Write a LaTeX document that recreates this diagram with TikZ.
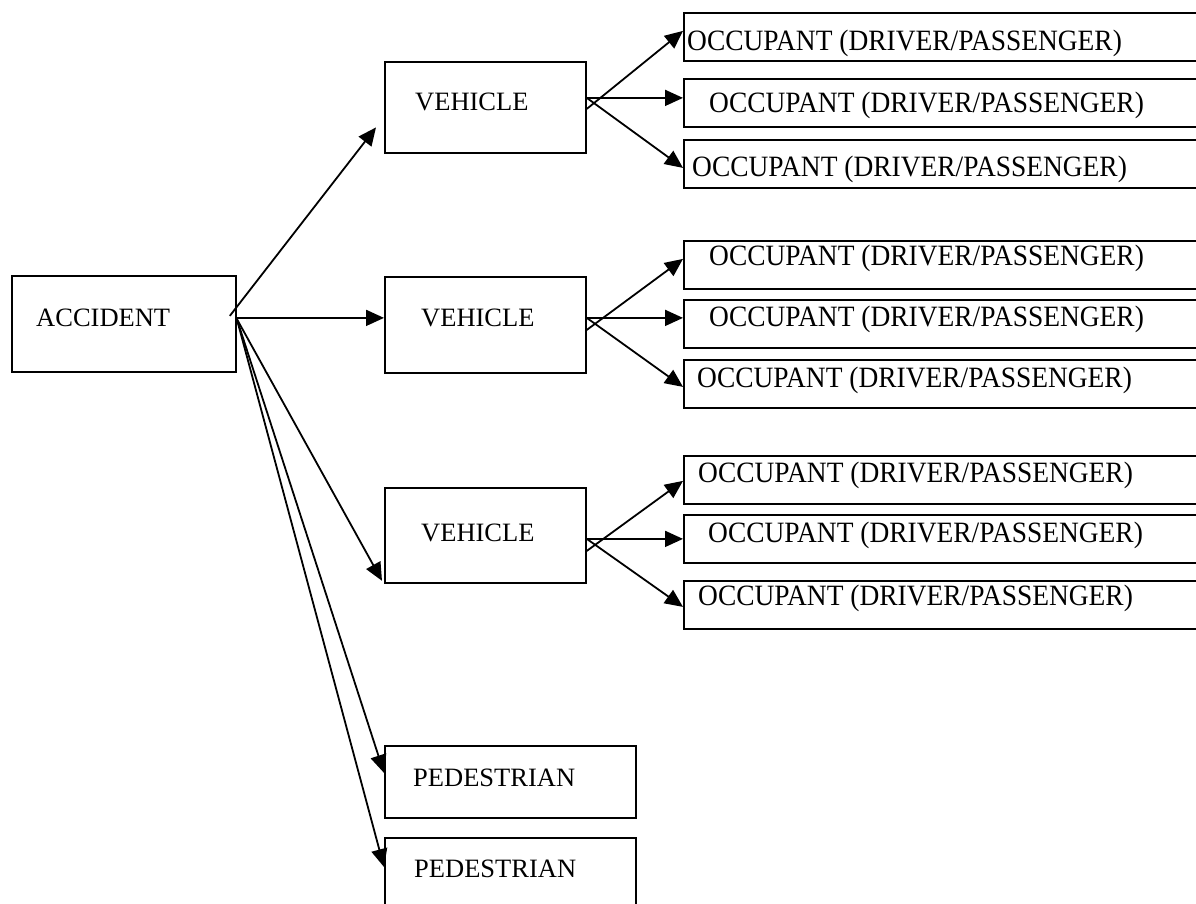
\documentclass[tikz,border=0pt]{standalone}
\usepackage{fontspec}
\setmainfont{Liberation Serif}
\newfontfamily\occfont[FakeStretch=0.93]{Liberation Serif}
\usetikzlibrary{arrows.meta}

\begin{document}
\begin{tikzpicture}[x=1pt, y=-1pt,
	box/.style={draw, line width=1.8pt, rectangle, anchor=north west, inner sep=0pt},
	lbl/.style={anchor=base west, inner sep=0pt, font=\fontsize{26.5}{30}\selectfont},
	occ/.style={anchor=base west, inner sep=0pt, font=\occfont\fontsize{29.5}{32}\selectfont},
	arr/.style={line width=1.8pt, -{Triangle[length=18pt,width=16pt]}}]
				% page
				\useasboundingbox (0,0) rectangle (1196,904);
				\clip (0,0) rectangle (1196,904);
				% root
				\node[box, minimum width=224pt, minimum height=96pt] (acc) at (11,275) {};
				\node[lbl] (accT) at (36,326) {ACCIDENT};
				% vehicles
				\node[box, minimum width=201pt, minimum height=91pt] (v1) at (384,61) {};
				\node[lbl] (v1T) at (415,111) {VEHICLE};
				\node[box, minimum width=201pt, minimum height=96pt] (v2) at (384,276) {};
				\node[lbl] (v2T) at (421,326) {VEHICLE};
				\node[box, minimum width=201pt, minimum height=95pt] (v3) at (384,487) {};
				\node[lbl] (v3T) at (421,541) {VEHICLE};
				% pedestrians
				\node[box, minimum width=251pt, minimum height=72pt] (p1) at (384,745) {};
				\node[lbl] (p1T) at (413,786) {PEDESTRIAN};
				\node[box, minimum width=251pt, minimum height=80pt] (p2) at (384,837) {};
				\node[lbl] (p2T) at (414,877) {PEDESTRIAN};
				% occupants
				\foreach \n/\t/\tx/\b in {1/12/687/51, 2/78/709/113, 3/139/692/177,
					4/240/709/265, 5/299/709/326, 6/359/697/387,
					7/455/698/482, 8/514/708/542, 9/580/698/605}{
					\node[box, minimum width=540pt, minimum height=48pt] (o\n) at (683,\t) {};
					\node[occ] (o\n T) at (\tx,\b) {OCCUPANT (DRIVER/PASSENGER)};
				}
				% accident arrows
				\draw[arr] ([xshift=-7pt,yshift=8pt]acc.east) -- ([xshift=-8pt,yshift=-20pt]v1.west);
				\draw[arr] ([yshift=6pt]acc.east) -- ([yshift=7pt]v2.west);
				\draw[arr] ([yshift=5pt]acc.east) -- ([xshift=-2pt,yshift=3pt]v3.south west);
				\draw[arr] ([yshift=5pt]acc.east) -- ([yshift=9pt]p1.west);
				\draw[arr] ([yshift=5pt]acc.east) -- ([yshift=-30pt]p2.north west);
				% vehicle arrows
				\draw[arr] ([yshift=-1.5pt]v1.east) -- ([yshift=6pt]o1.west);
				\draw[arr] ([yshift=9.5pt]v1.east) -- ([yshift=5pt]o2.west);
				\draw[arr] ([yshift=9.5pt]v1.east) -- ([yshift=-4pt]o3.west);
				\draw[arr] ([yshift=-5pt]v2.east) -- ([yshift=6pt]o4.west);
				\draw[arr] ([yshift=7pt]v2.east) -- ([yshift=6pt]o5.west);
				\draw[arr] ([yshift=7pt]v2.east) -- ([yshift=-3pt]o6.west);
				\draw[arr] ([yshift=-15.5pt]v3.east) -- ([yshift=-1pt]o7.west);
				\draw[arr] ([yshift=-3.5pt]v3.east) -- (o8.west);
				\draw[arr] ([yshift=-3.5pt]v3.east) -- ([yshift=-2pt]o9.west);
			\end{tikzpicture}
\end{document}
